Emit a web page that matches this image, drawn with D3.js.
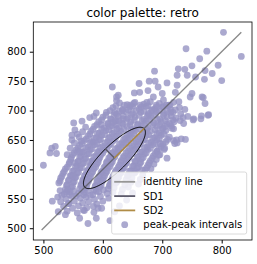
<!DOCTYPE html>
<html>
<head>
<meta charset="utf-8">
<script src="https://cdn.jsdelivr.net/npm/d3@7"></script>
<style>
  body { margin: 0; background: #fff; }
  svg text { font-family: "DejaVu Sans", sans-serif; fill: #000; }
</style>
</head>
<body>
<div id="chart"></div>
<script>
// Poincaré plot: RR(n) vs RR(n+1)
const title = "color palette: retro";
const xTicks = [500, 600, 700, 800];
const yTicks = [500, 550, 600, 650, 700, 750, 800];
const meanRR = 619.5, sd1 = 21.5, sd2 = 70.5;
const identityRange = [497, 833];
const legendLabels = ["identity line", "SD1", "SD2", "peak-peak intervals"];

// dense core of the cloud
const corePoints = [
  [628,713],[641,710],[654,714],[669,711],[680,715],[695,712],[707,709],[719,714],
  [617,705],[633,702],[646,706],[661,703],[673,707],[687,703],[701,706],[714,702],[729,705],
  [606,697],[623,694],[639,698],[650,695],[664,697],[677,693],[690,698],[703,695],[718,697],[731,694],
  [600,689],[613,686],[626,690],[642,687],[654,689],[669,685],[681,690],[696,686],[708,689],[723,687],[743,690],
  [593,681],[608,678],[621,682],[632,679],[647,681],[659,677],[673,682],[686,679],[698,681],[712,678],
  [586,673],[602,670],[616,674],[627,671],[641,673],[651,669],[665,674],[676,671],[691,673],[701,670],[715,674],
  [580,665],[594,662],[605,666],[619,663],[630,665],[645,661],[655,666],[670,663],[680,665],[695,662],[706,666],
  [575,657],[589,654],[598,658],[612,655],[623,657],[638,653],[648,658],[662,655],[673,657],[687,654],[698,658],[712,655],
  [569,649],[584,646],[594,650],[608,647],[618,649],[632,645],[642,650],[656,647],[667,649],[681,646],[691,650],[706,647],[719,649],
  [561,641],[575,638],[586,642],[600,639],[611,641],[625,637],[635,642],[649,639],[659,641],[674,638],[684,642],[698,639],
  [555,633],[568,630],[579,634],[593,631],[603,633],[617,629],[627,634],[642,631],[652,633],[666,630],[676,634],[691,631],[703,634],
  [549,625],[563,622],[574,626],[588,623],[597,625],[612,621],[622,626],[636,623],[646,625],[660,622],[670,626],[685,623],[696,625],
  [546,617],[559,614],[569,618],[583,615],[593,617],[607,613],[617,618],[631,615],[641,617],[655,614],[665,618],[680,615],[690,617],
  [543,609],[557,606],[566,610],[580,607],[590,609],[604,605],[614,610],[628,607],[638,609],[652,606],[662,610],[676,607],[686,609],
  [537,601],[551,598],[561,602],[575,599],[585,601],[599,597],[609,602],[623,599],[633,601],[647,598],[657,602],[671,599],[681,601],
  [533,593],[547,590],[557,594],[571,591],[581,593],[595,589],[605,594],[619,591],[629,593],[643,590],[653,594],[667,591],
  [529,585],[543,582],[553,586],[567,583],[577,585],[591,581],[601,586],[615,583],[625,585],[639,582],[649,586],[663,583],
  [526,577],[540,574],[550,578],[564,575],[574,577],[588,573],[598,578],[612,575],[622,577],[637,574],[647,578],
  [537,566],[547,570],[561,567],[571,569],[585,565],[595,570],[609,567],[619,569],[633,566],[643,570],
  [535,558],[545,562],[559,559],[569,561],[583,557],[593,562],[607,559],[617,561],[631,558],
  [524,553],[538,550],[548,554],[562,551],[572,553],[586,549],[596,554],[610,551],
  [529,545],[543,542],[552,546],[566,543],[576,545],[590,541],[600,546],
  [534,537],[549,534],[559,538],[573,535],[584,537],[598,534],
  [540,529],[557,526],[569,530],[585,527]
];

// points lying between the core rows
const fillPoints = [
  [622,708],[636,709],[650,707],[663,709],[676,708],[690,709],[702,707],
  [612,700],[628,699],[643,701],[656,700],[669,699],[682,701],[695,700],[708,699],[722,701],
  [605,692],[619,693],[634,691],[648,693],[661,692],[675,691],[688,693],[702,692],[715,691],
  [598,684],[614,685],[627,683],[640,685],[653,684],[666,683],[679,685],[692,684],[705,683],[718,684],
  [590,676],[609,677],[622,675],[634,677],[646,676],[658,675],[670,677],[684,676],[696,675],[708,677],
  [583,668],[598,669],[610,667],[624,669],[636,668],[648,667],[661,669],[674,668],[688,667],[700,669],
  [578,660],[591,661],[603,659],[616,661],[627,660],[641,659],[652,661],[666,660],[677,659],[691,661],[703,660],
  [572,652],[585,653],[596,651],[610,653],[621,652],[635,651],[645,653],[659,652],[670,651],[684,653],[695,652],[709,651],
  [565,644],[579,645],[590,643],[604,645],[614,644],[628,643],[639,645],[652,644],[663,643],[677,645],[688,644],[701,643],
  [558,636],[571,637],[582,635],[596,637],[607,636],[621,635],[631,637],[645,636],[656,635],[670,637],[680,636],[694,635],
  [552,628],[565,629],[577,627],[591,629],[600,628],[614,627],[625,629],[639,628],[649,627],[663,629],[673,628],[688,627],
  [547,620],[561,621],[571,619],[585,621],[595,620],[610,619],[620,621],[634,620],[644,619],[658,621],[668,620],[683,619],
  [544,612],[558,613],[568,611],[582,613],[592,612],[606,611],[616,613],[630,612],[640,611],[654,613],[664,612],[678,611],
  [540,604],[554,605],[564,603],[578,605],[588,604],[602,603],[612,605],[626,604],[636,603],[650,605],[660,604],[674,603],
  [535,596],[549,597],[559,595],[573,597],[583,596],[597,595],[607,597],[621,596],[631,595],[645,597],[655,596],
  [531,588],[545,589],[555,587],[569,589],[579,588],[593,587],[603,589],[617,588],[627,587],[641,589],
  [528,580],[542,581],[552,579],[566,581],[576,580],[590,579],[600,581],[614,580],[624,579],
  [539,573],[549,571],[563,573],[573,572],[587,571],[597,573],[611,572],
  [528,564],[541,565],[551,563],[565,565],[575,564],[589,563],[601,565],
  [531,556],[544,557],[555,555],[568,557],[579,556]
];

// looser points on the upper-left side of the core
const sidePoints = [
  [560,655],[566,664],[571,672],[563,648],[552,645],[545,636],[540,625],
  [565,682],[578,688],[585,690],[557,660],[548,650]
];

// scattered points around the core
const outerPoints = [
  [803,833],[833,792],[740,805],[775,801],[763,788],[794,777],[750,776],[738,770],[727,771],
  [772,768],[687,767],[784,763],[756,757],[742,760],[725,760],[800,751],[771,753],[678,750],
  [688,750],[661,746],[616,740],[708,747],[725,743],[693,740],[676,734],[653,730],[662,731],
  [722,731],[750,729],[626,726],[700,729],[767,723],[747,723],[769,722],[685,723],[702,718],
  [623,717],[623,723],[674,714],[728,715],[713,709],[772,712],[652,712],[646,709],[711,709],
  [691,706],[665,706],[589,696],[620,697],[633,700],[683,700],[677,695],[714,697],[738,702],
  [778,693],[765,686],[753,686],[777,692],[766,691],[735,688],[551,679],[553,667],[548,658],
  [622,683],[634,686],[617,680],[597,676],[612,673],[730,683],[736,678],[720,681],[752,684],
  [705,673],[716,670],[719,669],[724,650],[732,652],[721,644],[696,644],[704,636],[691,630],
  [500,607],[514,636],[520,639],[511,628],[522,627],[558,630],[553,611],[578,613],[550,589],
  [539,562],[515,546],[525,528],[537,523],[561,517],[575,508],[589,517],[612,513],[542,542],
  [567,531],[592,534],[581,647],[562,630],[725,645],[739,651],[708,619],[694,624],[666,599],
  [640,548],[628,538],[620,528],[650,560],[660,575]
];
const points = corePoints.concat(fillPoints, sidePoints, outerPoints);

const colors = {
  points: "#9693c3",
  identity: "#555555",
  sd1: "#5d5b6c",
  sd2: "#b08c46"
};

const width = 257, height = 264;
const margin = { top: 22, right: 5, bottom: 24, left: 33.3 };

const svg = d3.select("#chart").append("svg")
  .attr("width", width).attr("height", height);

const x = d3.scaleLinear().domain([483, 851]).range([margin.left, width - margin.right]);
const y = d3.scaleLinear().domain([480, 850.5]).range([height - margin.bottom, margin.top]);

// scatter
svg.append("g").selectAll("circle").data(points).join("circle")
  .attr("cx", d => x(d[0]))
  .attr("cy", d => y(d[1]))
  .attr("r", 3.4)
  .attr("fill", colors.points)
  .attr("fill-opacity", 0.8);

// identity line
svg.append("line")
  .attr("x1", x(identityRange[0])).attr("y1", y(identityRange[0]))
  .attr("x2", x(identityRange[1])).attr("y2", y(identityRange[1]))
  .attr("stroke", colors.identity).attr("stroke-opacity", 0.7).attr("stroke-width", 1.3);

// SD ellipse, major axis on the identity line
const c45 = Math.SQRT1_2;
const ell = d3.range(0, 2 * Math.PI + 0.01, Math.PI / 90).map(t => {
  const a = sd2 * Math.cos(t), b = sd1 * Math.sin(t);
  return [meanRR + (a - b) * c45, meanRR + (a + b) * c45];
});
svg.append("path")
  .attr("d", d3.line().x(d => x(d[0])).y(d => y(d[1]))(ell))
  .attr("fill", "none").attr("stroke", "#000").attr("stroke-width", 1);

// SD1 and SD2 segments from the centre
svg.append("line")
  .attr("x1", x(meanRR)).attr("y1", y(meanRR))
  .attr("x2", x(meanRR - sd1 * c45)).attr("y2", y(meanRR + sd1 * c45))
  .attr("stroke", colors.sd1).attr("stroke-width", 1.5);
svg.append("line")
  .attr("x1", x(meanRR)).attr("y1", y(meanRR))
  .attr("x2", x(meanRR + sd2 * c45)).attr("y2", y(meanRR + sd2 * c45))
  .attr("stroke", colors.sd2).attr("stroke-width", 1.5);

// axes
svg.append("g")
  .attr("transform", `translate(0,${height - margin.bottom})`)
  .call(d3.axisBottom(x).tickValues(xTicks).tickSize(3.5).tickPadding(3.5).tickSizeOuter(0))
  .call(g => g.select(".domain").remove())
  .call(g => g.selectAll("text").attr("font-size", 10).attr("font-family", "DejaVu Sans"));
svg.append("g")
  .attr("transform", `translate(${margin.left},0)`)
  .call(d3.axisLeft(y).tickValues(yTicks).tickSize(3.5).tickPadding(3.5).tickSizeOuter(0))
  .call(g => g.select(".domain").remove())
  .call(g => g.selectAll("text").attr("font-size", 10).attr("font-family", "DejaVu Sans"));

svg.append("rect")
  .attr("x", margin.left).attr("y", margin.top)
  .attr("width", width - margin.right - margin.left)
  .attr("height", height - margin.bottom - margin.top)
  .attr("fill", "none").attr("stroke", "#000").attr("stroke-width", 0.8);

svg.append("text")
  .attr("x", (margin.left + width - margin.right) / 2).attr("y", 16.5)
  .attr("text-anchor", "middle").attr("font-size", 12)
  .text(title);

// legend
const lg = svg.append("g").attr("transform", "translate(111.7,172)");
lg.append("rect")
  .attr("width", 135).attr("height", 62).attr("rx", 2)
  .attr("fill", "#fff").attr("fill-opacity", 0.8)
  .attr("stroke", "#d0d0d0").attr("stroke-width", 0.8);
const rows = lg.selectAll("g.row").data(legendLabels).join("g")
  .attr("class", "row")
  .attr("transform", (d, i) => `translate(0,${9.8 + i * 14.3})`);
const handleColors = ["#969696", colors.sd1, colors.sd2];
rows.filter((d, i) => i < 3).append("line")
  .attr("x1", 2.5).attr("x2", 23.5)
  .attr("stroke", (d, i) => handleColors[i]).attr("stroke-width", 1.8);
rows.filter((d, i) => i === 3).append("circle")
  .attr("cx", 13).attr("r", 3.4)
  .attr("fill", colors.points).attr("fill-opacity", 0.8);
rows.append("text")
  .attr("x", 31.6).attr("y", 3.6)
  .attr("font-size", 10)
  .text(d => d);
</script>
</body>
</html>
